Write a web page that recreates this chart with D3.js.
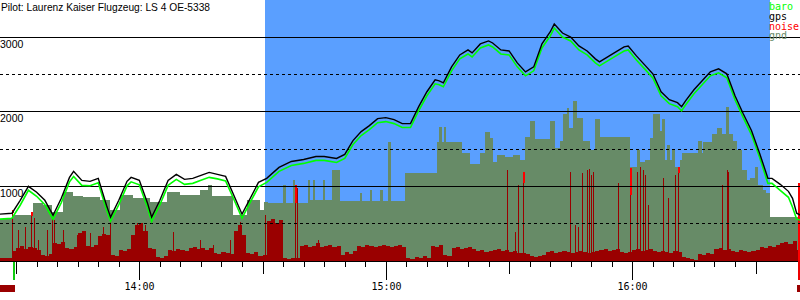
<!DOCTYPE html>
<html><head><meta charset="utf-8">
<script src="https://cdn.jsdelivr.net/npm/d3@7"></script>
<style>body{margin:0;background:#fff}svg{display:block}</style>
</head><body><svg id="c" width="800" height="300"></svg>
<script>
const titleText = "Pilot: Laurenz Kaiser Flugzeug: LS 4 OE-5338";
const domainStart = "13:26:05", domainEnd = "16:40:49";
const taskStart = "14:30:30", taskEnd = "16:33:26";
const lastTick = "16:30";
const altGrid = [500, 1000, 1500, 2000, 2500, 3000];
const altLabels = [1000, 2000, 3000];
const legendNames = ["baro", "gps", "noise", "gnd"];

const lineTimes = ["13:26","13:29","13:31","13:33","13:35","13:37","13:39","13:41","13:43","13:44","13:46","13:48","13:50","13:52","13:53","13:55","13:57","13:58","14:00","14:02","14:03","14:05","14:07","14:09","14:11","14:13","14:15","14:17","14:19","14:21","14:23","14:25","14:27","14:29","14:31","14:34","14:37","14:40","14:43","14:45","14:48","14:50","14:52","14:54","14:56","14:58","15:00","15:02","15:04","15:06","15:08","15:10","15:12","15:13","15:14","15:16","15:18","15:20","15:21","15:23","15:25","15:26","15:28","15:30","15:32","15:34","15:36","15:38","15:40","15:41","15:43","15:45","15:47","15:49","15:51","15:52","15:54","15:56","15:58","15:59","16:01","16:03","16:05","16:07","16:09","16:11","16:12","16:13","16:15","16:17","16:19","16:21","16:23","16:25","16:27","16:29","16:31","16:33","16:34","16:36","16:38","16:39","16:40","16:41"];
const gpsAlt = [627,640,813,1000,920,813,613,840,1120,1200,1080,1067,1107,747,587,813,1067,1120,1080,773,587,813,1080,1160,1093,1107,1147,1187,1160,1133,880,627,840,1053,1107,1253,1333,1360,1400,1400,1373,1427,1613,1733,1813,1907,1920,1893,1840,1840,2067,2267,2427,2413,2387,2600,2760,2827,2787,2907,2947,2920,2827,2813,2653,2533,2600,2907,3067,3173,3053,3000,2880,2813,2707,2667,2733,2800,2867,2880,2747,2627,2507,2267,2160,2120,2067,2147,2293,2413,2533,2573,2507,2213,1973,1747,1440,1107,1107,1027,933,840,640,613];
const baroAlt = [560,573,747,947,867,753,560,780,1060,1133,1013,1007,1047,687,533,753,1007,1060,1020,713,527,753,1013,1093,1027,1040,1080,1120,1100,1073,827,573,787,993,1053,1200,1280,1307,1347,1347,1320,1373,1560,1680,1760,1853,1867,1840,1787,1787,2013,2213,2373,2360,2333,2547,2707,2773,2733,2853,2893,2867,2773,2760,2600,2480,2547,2853,3013,3120,3000,2947,2827,2760,2653,2613,2680,2747,2813,2827,2693,2573,2453,2213,2107,2067,2013,2093,2240,2360,2480,2520,2453,2160,1920,1693,1387,1040,1040,947,853,720,560,547];

const gndTimes = ["13:26:00","13:28:55","13:34:02","13:36:28","13:38:39","13:41:20","13:43:46","13:46:12","13:50:21","13:52:47","13:55:13","13:58:23","14:02:31","14:06:39","14:09:49","14:14:41","14:16:38","14:17:36","14:22:43","14:26:08","14:29:17","14:30:16","14:31:14","14:34:53","14:35:37","14:37:19","14:37:49","14:40:59","14:41:28","14:42:12","14:42:41","14:44:38","14:45:07","14:46:49","14:48:46","14:53:38","14:54:07","14:56:04","14:56:33","14:58:30","14:59:14","15:00:27","15:01:11","15:04:35","15:12:23","15:12:52","15:13:35","15:14:05","15:14:34","15:18:28","15:20:25","15:22:51","15:24:04","15:25:17","15:26:01","15:26:59","15:28:56","15:30:53","15:32:35","15:33:48","15:35:01","15:36:14","15:39:53","15:41:06","15:42:19","15:43:03","15:44:01","15:44:31","15:45:29","15:46:28","15:47:55","15:49:37","15:50:50","15:52:03","15:59:22","16:01:04","16:01:48","16:03:01","16:04:14","16:04:58","16:06:40","16:07:09","16:07:53","16:08:22","16:09:06","16:09:35","16:10:19","16:11:32","16:12:01","16:15:55","16:16:53","16:17:08","16:19:19","16:20:32","16:21:45","16:22:44","16:23:28","16:24:26","16:25:25","16:26:37","16:27:50","16:28:34","16:29:47","16:30:31","16:31:44","16:32:28","16:33:26","16:42:00"];
const gndAlt = [560,613,773,747,653,920,867,853,813,680,880,840,787,920,880,947,1013,867,613,813,680,787,773,1013,773,1080,773,1080,813,1080,813,1080,813,1213,800,907,800,947,800,947,800,1600,800,1173,1600,1800,1600,1800,1600,1453,1293,1453,1733,1653,1320,1413,1387,1413,1347,1667,1880,1640,1880,1520,1613,1973,2053,1787,2147,1920,1613,1480,1907,1667,1253,1480,1320,1347,1653,1973,1747,1907,1347,1547,1347,1480,1253,1347,1453,1613,1453,1600,1707,1787,1707,2067,1707,1613,1480,1213,1080,1107,1253,1013,947,907,587,587];

// noise level, one value per minute starting at noiseStart
const noiseStart = "13:26:00";
const noiseLevel = [25,25,25,83,108,125,100,117,108,92,50,42,58,150,142,158,108,100,117,233,250,125,117,133,208,225,217,50,42,92,83,100,217,300,317,250,108,100,33,25,42,92,83,100,92,83,108,117,100,108,92,108,67,58,75,67,58,250,300,217,67,58,75,42,50,333,350,317,342,25,17,25,25,125,133,117,125,150,117,125,133,117,125,50,75,58,83,125,117,133,125,117,125,133,125,117,125,133,117,25,17,33,25,42,25,125,117,133,50,42,108,117,100,108,117,100,83,92,75,83,92,100,83,92,75,83,67,67,58,42,33,42,50,75,83,67,75,83,75,67,75,83,75,67,75,83,92,100,83,92,100,75,67,75,92,100,83,92,100,83,75,83,75,67,83,75,33,25,17,8,58,50,67,58,100,108,92,100,83,75,92,83,75,83,92,117,108,125,117,133,150,158,142,167,92];
const spikeTimes = ["13:28:55","13:30:23","13:32:05","13:33:33","13:34:17","13:35:15","13:37:26","13:38:39","13:39:09","13:41:20","13:44:45","13:47:55","13:51:04","13:52:47","13:59:21","14:01:18","14:08:07","14:14:41","14:17:51","14:21:59","14:24:25","14:30:30","14:37:49","14:38:18","14:43:25","15:29:25","15:31:22","15:32:06","15:33:19","15:44:45","15:45:58","15:46:42","15:47:41","15:48:54","15:49:23","15:49:52","15:50:21","15:56:26","15:59:22","16:01:04","16:01:48","16:02:31","16:03:01","16:03:44","16:07:24","16:08:37","16:10:19","16:11:03","16:21:45","16:22:58","16:23:13"];
const spikeLevel = [425,258,283,408,358,175,258,367,342,258,217,233,283,342,317,300,242,175,133,175,325,383,633,608,175,758,242,633,742,742,300,283,733,758,767,717,742,650,775,742,783,758,717,467,692,525,717,783,633,758,742];
const highTimes = ["13:28:55","13:33:33","14:37:49","15:33:19","15:59:22","16:11:03","16:40:15"];
const highFrom = [400,375,483,650,550,733,0];
const highTo = [425,408,633,742,775,783,650];
const takeoffTime = "13:29:10";
const engineRuns = [["13:26:05","13:29:45"],["16:40:05","16:40:49"]];
const landingMark = "16:40:15";

const parse = s => d3.timeParse(s.length > 5 ? "%H:%M:%S" : "%H:%M")(s);
const W = 800, H = 300, base = 261;
const x = d3.scaleTime().domain([parse(domainStart), parse(domainEnd)]).range([0, W]);
const y = d3.scaleLinear().domain([0, 3000]).range([base, 37]);
const yn = d3.scaleLinear().domain([0, 1000]).range([base, 141]);

const svg = d3.select("#c");
svg.append("rect").attr("width", W).attr("height", H).attr("fill", "#fff");

// task area
svg.append("rect").attr("x", Math.round(x(parse(taskStart)))).attr("y", 0)
  .attr("width", Math.round(x(parse(taskEnd))) - Math.round(x(parse(taskStart))))
  .attr("height", base).attr("fill", "#5a9fff");

// ground
const gnd = gndTimes.map((t, i) => ({t: parse(t), v: gndAlt[i]}));
svg.append("path").datum(gnd)
  .attr("d", d3.area().curve(d3.curveStepAfter).x(d => x(d.t)).y0(base).y1(d => Math.round(y(d.v))))
  .attr("fill", "#678b67").attr("shape-rendering", "crispEdges");

// noise base bars
const n0 = parse(noiseStart);
const gN = svg.append("g").attr("shape-rendering", "crispEdges");
noiseLevel.forEach((v, i) => {
  const t0 = d3.timeMinute.offset(n0, i), t1 = d3.timeMinute.offset(n0, i + 1);
  const a = Math.round(x(t0)), b = Math.min(W, Math.round(x(t1)));
  const yt = Math.round(yn(v));
  gN.append("rect").attr("x", a).attr("y", yt).attr("width", Math.max(0, b - a)).attr("height", base - yt).attr("fill", "#9a0000");
});
spikeTimes.forEach((t, i) => {
  const yt = Math.round(yn(spikeLevel[i]));
  gN.append("rect").attr("x", Math.round(x(parse(t)))).attr("y", yt).attr("width", 1).attr("height", base - yt).attr("fill", "#9a0000");
});
highTimes.forEach((t, i) => {
  const a = Math.round(yn(highTo[i])), b = Math.round(yn(highFrom[i]));
  gN.append("rect").attr("x", Math.round(x(parse(t)))).attr("y", a).attr("width", 2).attr("height", b - a).attr("fill", "#ff0000");
});

// grid
const gG = svg.append("g").attr("shape-rendering", "crispEdges");
[0].concat(altGrid).forEach(v => {
  const yy = Math.floor(y(v)) + 0.5;
  gG.append("line").attr("x1", 0).attr("x2", W).attr("y1", yy).attr("y2", yy)
    .attr("stroke", "#000").attr("stroke-width", 1)
    .attr("stroke-dasharray", (v % 1000 === 0) ? null : "3,3");
});
altLabels.forEach(v => {
  svg.append("text").attr("x", 0).attr("y", Math.floor(y(v)) + 11)
    .attr("font-family", "Liberation Sans, Arial, sans-serif").attr("font-size", 10.5)
    .attr("fill", "#000").text(v);
});

// lines
const pts = lineTimes.map((t, i) => ({t: parse(t), g: gpsAlt[i], b: baroAlt[i]}));
svg.append("path").datum(pts).attr("d", d3.line().x(d => x(d.t)).y(d => y(d.b)))
  .attr("fill", "none").attr("stroke", "#00ff00").attr("stroke-width", 1.6);
svg.append("path").datum(pts).attr("d", d3.line().x(d => x(d.t)).y(d => y(d.g)))
  .attr("fill", "none").attr("stroke", "#000").attr("stroke-width", 1.4);

// time axis
const ticks = x.ticks(d3.timeMinute.every(5)).filter(t => t <= parse(lastTick));
const gT = svg.append("g").attr("shape-rendering", "crispEdges");
ticks.forEach(t => {
  const xx = Math.round(x(t)) + 0.5;
  const m = t.getMinutes();
  const len = m === 0 ? 19 : (m === 30 ? 13 : 6);
  gT.append("line").attr("x1", xx).attr("x2", xx).attr("y1", base).attr("y2", base + len).attr("stroke", "#000");
  if (m === 0) {
    svg.append("text").attr("x", xx).attr("y", 290).attr("text-anchor", "middle")
      .attr("font-family", "DejaVu Sans Mono, monospace").attr("font-size", 10)
      .attr("fill", "#000").text(d3.timeFormat("%H:%M")(t));
  }
});

// markers
const gM = svg.append("g").attr("shape-rendering", "crispEdges");
gM.append("rect").attr("x", Math.round(x(parse(takeoffTime)))).attr("y", base + 1).attr("width", 2).attr("height", 18).attr("fill", "#11cc11");
engineRuns.forEach(r => {
  const a = Math.round(x(parse(r[0]))), b = Math.round(x(parse(r[1])));
  gM.append("rect").attr("x", a).attr("y", 285).attr("width", Math.max(1, b - a)).attr("height", 7).attr("fill", "#9a0000");
});
gM.append("rect").attr("x", Math.round(x(parse(landingMark)))).attr("y", base).attr("width", 2).attr("height", 19).attr("fill", "#ee0000");

// title
svg.append("text").attr("x", 1).attr("y", 11)
  .attr("font-family", "Liberation Sans, Arial, sans-serif").attr("font-size", 10.5)
  .attr("textLength", 209).attr("lengthAdjust", "spacingAndGlyphs")
  .attr("fill", "#000").text(titleText);

// legend
const legendColors = ["#00ff00", "#000000", "#ff0000", "#678b67"];
legendNames.forEach((n, i) => {
  svg.append("text").attr("x", 769).attr("y", 10 + i * 9.8)
    .attr("font-family", "DejaVu Sans Mono, monospace").attr("font-size", 10)
    .attr("fill", legendColors[i]).text(n);
});
</script></body></html>
